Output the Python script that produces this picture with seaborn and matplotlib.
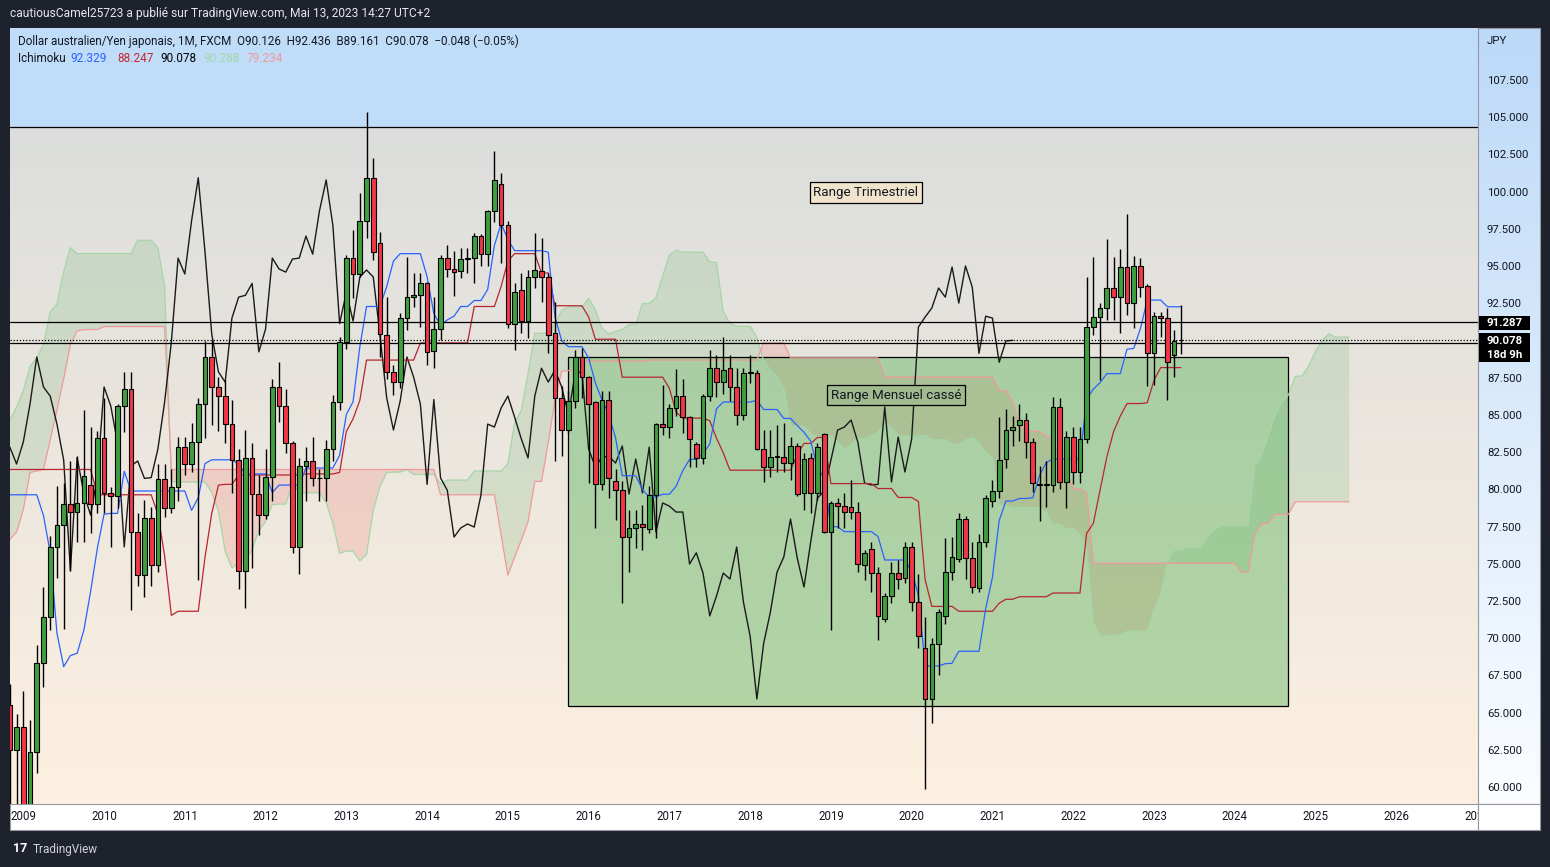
import numpy as np
import pandas as pd
import seaborn as sns
import matplotlib.pyplot as plt
import matplotlib.transforms as mtransforms
from matplotlib.colors import to_rgb
from matplotlib.patches import Rectangle

# AUD/JPY monthly candles (FXCM), Nov 2008 .. May 2023
months = pd.date_range("2008-11-01", "2023-05-01", freq="MS")

opens = [65.6, 62.55,
         64.10, 57.4, 62.42, 68.4, 71.49, 76.19, 77.67, 79.08, 78.54, 79.15, 80.36, 79.08,
         83.51, 79.82, 79.6, 85.66, 86.81, 77.2, 74.3, 78.14, 74.98, 80.76, 78.8, 80.2,
         82.9, 81.77, 83.24, 85.8, 88.96, 86.94, 86.33, 84.45, 82.03, 74.6, 82.2, 79.76,
         78.34, 80.9, 86.94, 85.66, 83.18, 76.2, 81.63, 81.97, 80.8, 80.85, 82.78, 85.93,
         89.96, 95.6, 94.53, 98.1, 101.0, 96.6, 90.43, 87.95, 87.3, 91.57, 92.98, 93.1,
         93.9, 89.36, 90.84, 95.6, 94.87, 94.73, 95.54, 95.6, 97.08, 95.87, 98.76, 100.6,
         97.8, 91.2, 93.45, 91.37, 94.33, 94.73, 94.33, 90.6, 86.2, 84.05, 86.0, 88.96,
         87.6, 85.9, 80.4, 86.1, 80.63, 80.0, 76.86, 77.5, 77.74, 77.4, 79.68, 84.45,
         84.25, 85.53, 86.33, 84.92, 83.1, 82.17, 86.33, 88.2, 87.27, 88.2, 86.94, 85.06,
         87.88, 87.88, 82.78, 81.56, 82.24, 82.24, 81.83, 82.98, 79.82, 82.17, 79.82, 83.78,
         77.2, 79.15, 78.94, 78.9, 78.54, 75.0, 76.06, 74.44, 71.36, 72.9, 74.44, 74.1,
         76.19, 72.5, 69.4, 65.98, 69.7, 71.56, 74.51, 75.4, 78.07, 75.45, 73.43, 76.53,
         79.28, 79.95, 82.1, 84.05, 84.4, 84.72, 83.24, 80.4, 80.36, 80.36, 85.6, 80.56,
         83.58, 81.23, 83.45, 90.97, 91.64, 92.25, 93.59, 92.98, 95.0, 92.58, 95.07, 93.73,
         89.2, 91.7, 91.57, 89.09, 90.126]

highs = [67.0, 65.0,
         66.5, 64.57, 69.6, 73.5, 76.9, 80.3, 80.5, 82.0, 82.3, 85.4, 84.25, 84.0,
         86.2, 80.2, 85.8, 87.95, 87.95, 78.5, 79.35, 78.9, 81.8, 81.8, 81.4, 83.6,
         83.6, 84.5, 86.2, 90.0, 90.1, 87.6, 87.4, 86.1, 82.8, 84.05, 83.2, 81.0,
         82.8, 87.5, 88.6, 86.8, 83.3, 82.2, 82.9, 83.6, 81.4, 83.4, 86.4, 90.3,
         95.8, 97.5, 99.97, 105.4, 102.3, 97.35, 92.98, 88.4, 91.9, 95.7, 94.6, 94.6,
         94.0, 93.0, 95.8, 96.5, 96.1, 96.3, 96.3, 97.3, 97.2, 98.8, 102.8, 101.3,
         98.1, 93.9, 94.6, 94.8, 97.3, 96.95, 94.6, 92.65, 87.0, 86.7, 89.4, 89.56,
         87.7, 86.0, 86.7, 86.7, 81.4, 80.6, 78.7, 78.7, 79.0, 80.3, 84.52, 87.07,
         85.8, 88.15, 87.5, 85.0, 83.25, 86.5, 89.4, 89.1, 90.3, 89.1, 88.2, 88.2,
         89.1, 88.1, 84.05, 84.05, 84.4, 84.5, 83.6, 83.2, 82.5, 82.5, 83.2, 83.85,
         79.3, 79.5, 79.8, 80.7, 79.2, 76.0, 76.5, 74.85, 73.1, 75.2, 75.3, 76.5,
         76.5, 74.4, 71.5, 70.1, 72.0, 76.8, 76.86, 78.47, 78.3, 76.5, 77.06, 79.7,
         80.7, 84.93, 85.46, 85.0, 85.8, 85.2, 83.5, 81.6, 82.0, 86.3, 86.2, 84.0,
         84.25, 84.25, 94.33, 95.67, 92.6, 96.88, 95.67, 96.2, 98.56, 95.74, 95.6, 93.86,
         92.0, 92.0, 92.25, 90.77, 92.436]

lows = [57.5, 58.5,
        56.8, 55.8, 61.0, 66.8, 70.6, 74.1, 70.7, 74.6, 76.5, 76.5, 77.1, 78.5,
        78.5, 76.2, 78.8, 83.9, 71.96, 73.6, 72.8, 73.6, 74.5, 78.2, 78.5, 79.3,
        81.0, 81.2, 74.0, 83.5, 84.4, 84.0, 83.2, 79.8, 73.4, 72.1, 74.8, 77.0,
        78.1, 79.3, 84.6, 82.5, 75.8, 74.4, 79.3, 80.3, 79.3, 79.3, 82.0, 85.4,
        89.5, 92.9, 94.3, 96.95, 95.5, 88.96, 87.5, 86.4, 86.9, 90.8, 92.3, 91.0,
        88.4, 88.2, 90.1, 94.3, 93.05, 94.26, 94.6, 93.9, 95.07, 95.07, 98.0, 95.3,
        90.9, 89.4, 90.6, 90.2, 93.6, 92.65, 89.2, 82.0, 82.3, 83.85, 85.5, 86.2,
        80.5, 77.5, 80.0, 79.5, 78.0, 72.4, 74.5, 76.1, 76.0, 77.1, 76.8, 83.7,
        83.5, 85.0, 83.85, 81.56, 81.56, 81.8, 86.0, 86.3, 86.5, 86.0, 84.4, 84.7,
        87.2, 82.7, 80.56, 80.9, 81.2, 81.2, 80.7, 79.6, 78.7, 78.5, 79.35, 77.1,
        70.6, 77.5, 77.5, 78.1, 74.5, 74.0, 73.2, 69.94, 71.15, 72.4, 73.4, 73.8,
        71.9, 69.4, 59.9, 64.4, 67.6, 71.0, 74.0, 75.2, 74.04, 73.1, 73.2, 76.2,
        78.9, 79.5, 81.5, 83.0, 83.3, 82.2, 79.9, 77.93, 78.9, 79.9, 80.1, 78.8,
        80.4, 80.5, 83.2, 90.43, 87.4, 91.44, 91.44, 90.57, 91.8, 90.9, 93.0, 87.0,
        87.07, 90.3, 86.1, 87.6, 89.161]

closes = [62.55, 64.10,
          57.3, 62.42, 68.4, 71.49, 76.19, 77.67, 79.08, 78.54, 79.15, 80.96, 79.08, 83.51,
          79.82, 79.6, 85.66, 86.81, 77.2, 74.3, 78.14, 74.98, 80.76, 78.8, 80.2, 82.9,
          81.77, 83.24, 85.8, 88.96, 86.94, 86.33, 84.45, 82.03, 74.6, 82.2, 79.76, 78.34,
          80.9, 86.94, 85.66, 83.18, 76.2, 81.63, 81.97, 80.8, 80.85, 82.78, 85.93, 89.96,
          95.6, 94.53, 98.1, 101.0, 96.0, 90.5, 87.95, 87.27, 91.57, 92.98, 93.1, 93.9,
          89.3, 90.84, 95.6, 94.87, 94.66, 95.54, 95.6, 97.08, 95.87, 98.76, 100.85, 97.8,
          91.2, 93.3, 91.37, 94.33, 94.8, 94.33, 90.43, 86.2, 84.05, 86.0, 88.96, 87.6,
          85.8, 80.4, 86.1, 80.83, 80.0, 76.86, 77.47, 77.74, 77.53, 79.68, 84.45, 84.25,
          85.53, 86.33, 84.92, 83.45, 82.17, 86.33, 88.2, 87.27, 88.08, 86.94, 85.06, 87.88,
          87.95, 82.78, 81.56, 82.24, 82.3, 81.83, 82.98, 79.75, 82.1, 79.82, 82.9, 77.2,
          79.15, 78.94, 78.54, 78.54, 75.05, 75.8, 74.44, 71.56, 72.9, 74.44, 74.04, 76.19,
          72.5, 70.2, 65.98, 69.7, 71.8, 74.51, 75.52, 78.07, 75.45, 73.5, 76.53, 79.48,
          79.95, 82.03, 84.05, 84.25, 84.72, 83.24, 80.49, 80.36, 80.4, 85.6, 80.56, 83.58,
          81.23, 83.45, 90.97, 91.64, 92.25, 93.59, 92.98, 95.0, 92.58, 95.07, 93.66, 89.2,
          91.7, 91.57, 88.6, 90.03, 90.078]

# ichimoku values that depend on bars left of the chart
tenkan_early = [79.7, 79.7, 79.7, 79.7, 79.7, 78.3, 75.8, 70.4]          # Nov 2008 .. Jun 2009
kijun_early = [81.4] * 13 + [79.7] * 9 + [78.4, 75.6, 71.6]              # Nov 2008 .. Nov 2010
span_a_early = [84.7, 85.6, 86.7, 88.3, 88.9, 89.8, 92.0, 92.5, 94.7, 96.3, 95.9] \
    + [95.9] * 8 + [96.8] * 3 + [96.3, 93.7, 80.6]                        # cloud Nov 2008 .. Nov 2010
span_b_early = [76.7, 77.2, 78.7, 81.2, 81.3, 81.4, 83.4, 85.4, 87.5, 89.8, 90.7, 90.8, 90.8, 90.8] \
    + [91.0] * 10 + [81.4] * 40 + [79.7] * 9 + [77.0, 74.3, 75.5]       # cloud Nov 2008 .. Feb 2015

years = list(range(2009, 2028))
price_ticks = np.arange(60, 107.6, 2.5)

# drawings on the chart
quarter_top, quarter_bottom = 104.4, 89.9
hline_level = 91.287
last_price = 90.078
month_box = (80.94, 187.9, 65.51, 88.93)   # x from, x to, low, high

GREEN = '#3f9f3f'
RED = '#f23645'
TEXT = '#131722'

sns.set_style("white")
plt.rcParams['font.family'] = ['Roboto', 'DejaVu Sans']

W, H = 1550, 867
fig = plt.figure(figsize=(W / 100, H / 100), dpi=100, facecolor='#1e222d')


def add_panel(x0, y0, x1, y1):
    return fig.add_axes([x0 / W, 1 - y1 / H, (x1 - x0) / W, (y1 - y0) / H])


def fig_text(x, y, s, **kw):
    fig.text(x / W, 1 - y / H, s, va='center', **kw)


XMIN, XMAX = -1.976, 216.15
YMIN, YMAX = 58.925, 111.06

ax = add_panel(10, 28, 1478, 804)
ax_r = add_panel(1478, 28, 1540, 804)
ax_b = add_panel(10, 804, 1478, 830)
ax_c = add_panel(1478, 804, 1540, 830)

# background
t = np.linspace(0, 1, 200)[:, None, None]
grad = np.array(to_rgb('#d7dbdc')) * (1 - t) + np.array(to_rgb('#fdf0e0')) * t
ax.imshow(grad, extent=[XMIN, XMAX, YMIN, YMAX], aspect='auto', zorder=0)
ax.axhspan(quarter_top, YMAX, color='#bfdcf9', zorder=0.5)

# ichimoku
xs = np.arange(len(months)) - 2
hi = pd.Series(highs)
lo = pd.Series(lows)


def midpoint(n):
    return (hi.rolling(n).max() + lo.rolling(n).min()) / 2


tenkan = midpoint(9).values
tenkan[:8] = tenkan_early
kijun = midpoint(26).values
kijun[:25] = kijun_early
span_b = midpoint(52).values

lead_x = np.arange(-2, xs[-1] + 26)
lead_a = np.r_[span_a_early, (tenkan + kijun) / 2]
lead_b = np.r_[span_b_early, span_b[51:]]

ax.fill_between(lead_x, lead_a, lead_b, where=lead_a >= lead_b, interpolate=True,
                color='#43a047', alpha=0.15, lw=0, zorder=1.5)
ax.fill_between(lead_x, lead_a, lead_b, where=lead_a < lead_b, interpolate=True,
                color='#f44336', alpha=0.15, lw=0, zorder=1.5)

# monthly range box
x0, x1, b0, b1 = month_box
ax.add_patch(Rectangle((x0, b0), x1 - x0, b1 - b0, facecolor='#4caf50', alpha=0.4,
                       edgecolor='none', zorder=2))
ax.add_patch(Rectangle((x0, b0), x1 - x0, b1 - b0, facecolor='none',
                       edgecolor='black', lw=0.9, zorder=2.1))

sns.lineplot(x=lead_x, y=lead_a, ax=ax, color='#a5d6a7', lw=0.9, zorder=3)
sns.lineplot(x=lead_x, y=lead_b, ax=ax, color='#ef9a9a', lw=0.9, zorder=3)
sns.lineplot(x=xs - 25, y=closes, ax=ax, color='#1a1a1a', lw=1.0, zorder=3)
sns.lineplot(x=xs, y=kijun, ax=ax, color='#b82530', lw=0.9, zorder=3.2)
sns.lineplot(x=xs, y=tenkan, ax=ax, color='#2962ff', lw=0.9, zorder=3.3)

# horizontal lines
ax.axhline(quarter_top, color='black', lw=0.9, zorder=4)
ax.axhline(quarter_bottom, color='black', lw=0.9, zorder=4)
ax.axhline(hline_level, color='black', lw=0.9, zorder=4)
ax.axhline(last_price, color='black', lw=0.9, ls=(0, (1, 1.5)), zorder=4)

# candles
o, h, l, c = map(np.array, (opens, highs, lows, closes))
up = c >= o
ax.vlines(xs, l, h, color='black', lw=1.0, zorder=5)
ax.bar(xs[up], (c - o)[up], bottom=o[up], width=0.7, color=GREEN,
       edgecolor='black', linewidth=0.8, zorder=6)
ax.bar(xs[~up], (c - o)[~up], bottom=o[~up], width=0.7, color=RED,
       edgecolor='black', linewidth=0.8, zorder=6)

# text boxes
ax.text(125.2, 100.0, "Range Trimestriel", ha='center', va='center', fontsize=9.6,
        color=TEXT, zorder=8,
        bbox=dict(boxstyle='square,pad=0.28', fc='#f1e4cc', ec='black', lw=0.9))
ax.text(129.7, 86.4, "Range Mensuel cassé", ha='center', va='center', fontsize=9.6,
        color=TEXT, zorder=8,
        bbox=dict(boxstyle='square,pad=0.28', fc='#a0bb8d', ec='black', lw=0.9))

ax.set_xlim(XMIN, XMAX)
ax.set_ylim(YMIN, YMAX)
ax.set_xticks([])
ax.set_yticks([])
ax.set_xlabel('')
ax.set_ylabel('')
for s in ax.spines.values():
    s.set_visible(False)

# price scale
tr = np.linspace(0, 1, 200)[:, None, None]
grad_r = np.array(to_rgb('#bcd9f8')) * (1 - tr) + np.array(to_rgb('#fbfdff')) * tr
ax_r.imshow(grad_r, extent=[0, 1, YMIN, YMAX], aspect='auto', zorder=0)
ax_r.set_xlim(0, 1)
ax_r.set_ylim(YMIN, YMAX)
for v in price_ticks:
    ax_r.text(0.145, v, f"{v:.3f}", va='center', fontsize=8.2, color=TEXT)
ax_r.text(0.145, 110.19, "JPY", va='center', fontsize=8.2, color=TEXT)
ax_r.add_patch(Rectangle((0.016, 90.77), 0.83, 0.94, fc='black', ec='none', zorder=3))
ax_r.text(0.145, 91.24, f"{hline_level:.3f}", va='center', fontsize=8.2,
          color='white', fontweight='bold', zorder=4)
ax_r.add_patch(Rectangle((0.016, 88.62), 0.83, 1.95, fc='black', ec='none', zorder=3))
ax_r.text(0.145, 90.03, f"{last_price:.3f}", va='center', fontsize=8.2,
          color='white', fontweight='bold', zorder=4)
ax_r.text(0.145, 89.09, "18d 9h", va='center', fontsize=8.2,
          color='white', fontweight='bold', zorder=4)
ax_r.set_xticks([])
ax_r.set_yticks([])

# time scale
ax_b.set_facecolor('white')
ax_b.set_xlim(XMIN, XMAX)
ax_b.set_ylim(0, 1)
blend = mtransforms.blended_transform_factory(ax_b.transData, ax_b.transAxes)
for yr in years:
    ax_b.text(12 * (yr - 2009), 0.5, str(yr), transform=blend, ha='center', va='center',
              fontsize=8.3, color=TEXT, clip_on=True)
ax_b.set_xticks([])
ax_b.set_yticks([])
ax_c.set_facecolor('white')
ax_c.set_xticks([])
ax_c.set_yticks([])
for a in (ax_r, ax_b, ax_c):
    for s in a.spines.values():
        s.set_color('#9598a1')
        s.set_linewidth(0.8)

# header and legend
fig_text(10, 14, "cautiousCamel25723 a publié sur TradingView.com, Mai 13, 2023 14:27 UTC+2",
         color='#e6e8ee', fontsize=8.65)
fig_text(18, 41, "Dollar australien/Yen japonais, 1M, FXCM  O90.126  H92.436  B89.161  "
         "C90.078  \u22120.048 (\u22120.05%)", color=TEXT, fontsize=8.4)
legend2 = [(18, "Ichimoku", TEXT), (70, "92.329", '#2962ff'), (117, "88.247", '#c62828'),
           (160, "90.078", 'black'), (203, "90.288", '#a5d6a7'), (247, "79.234", '#ef9a9a')]
for x, s, col in legend2:
    fig_text(x, 58, s, color=col, fontsize=8.5)

fig_text(13, 849, "17", color='white', fontsize=9, fontweight='bold')
fig_text(33, 849, "TradingView", color='#d1d4dc', fontsize=8.5)

fig.savefig("out.png", dpi=100, facecolor=fig.get_facecolor())
